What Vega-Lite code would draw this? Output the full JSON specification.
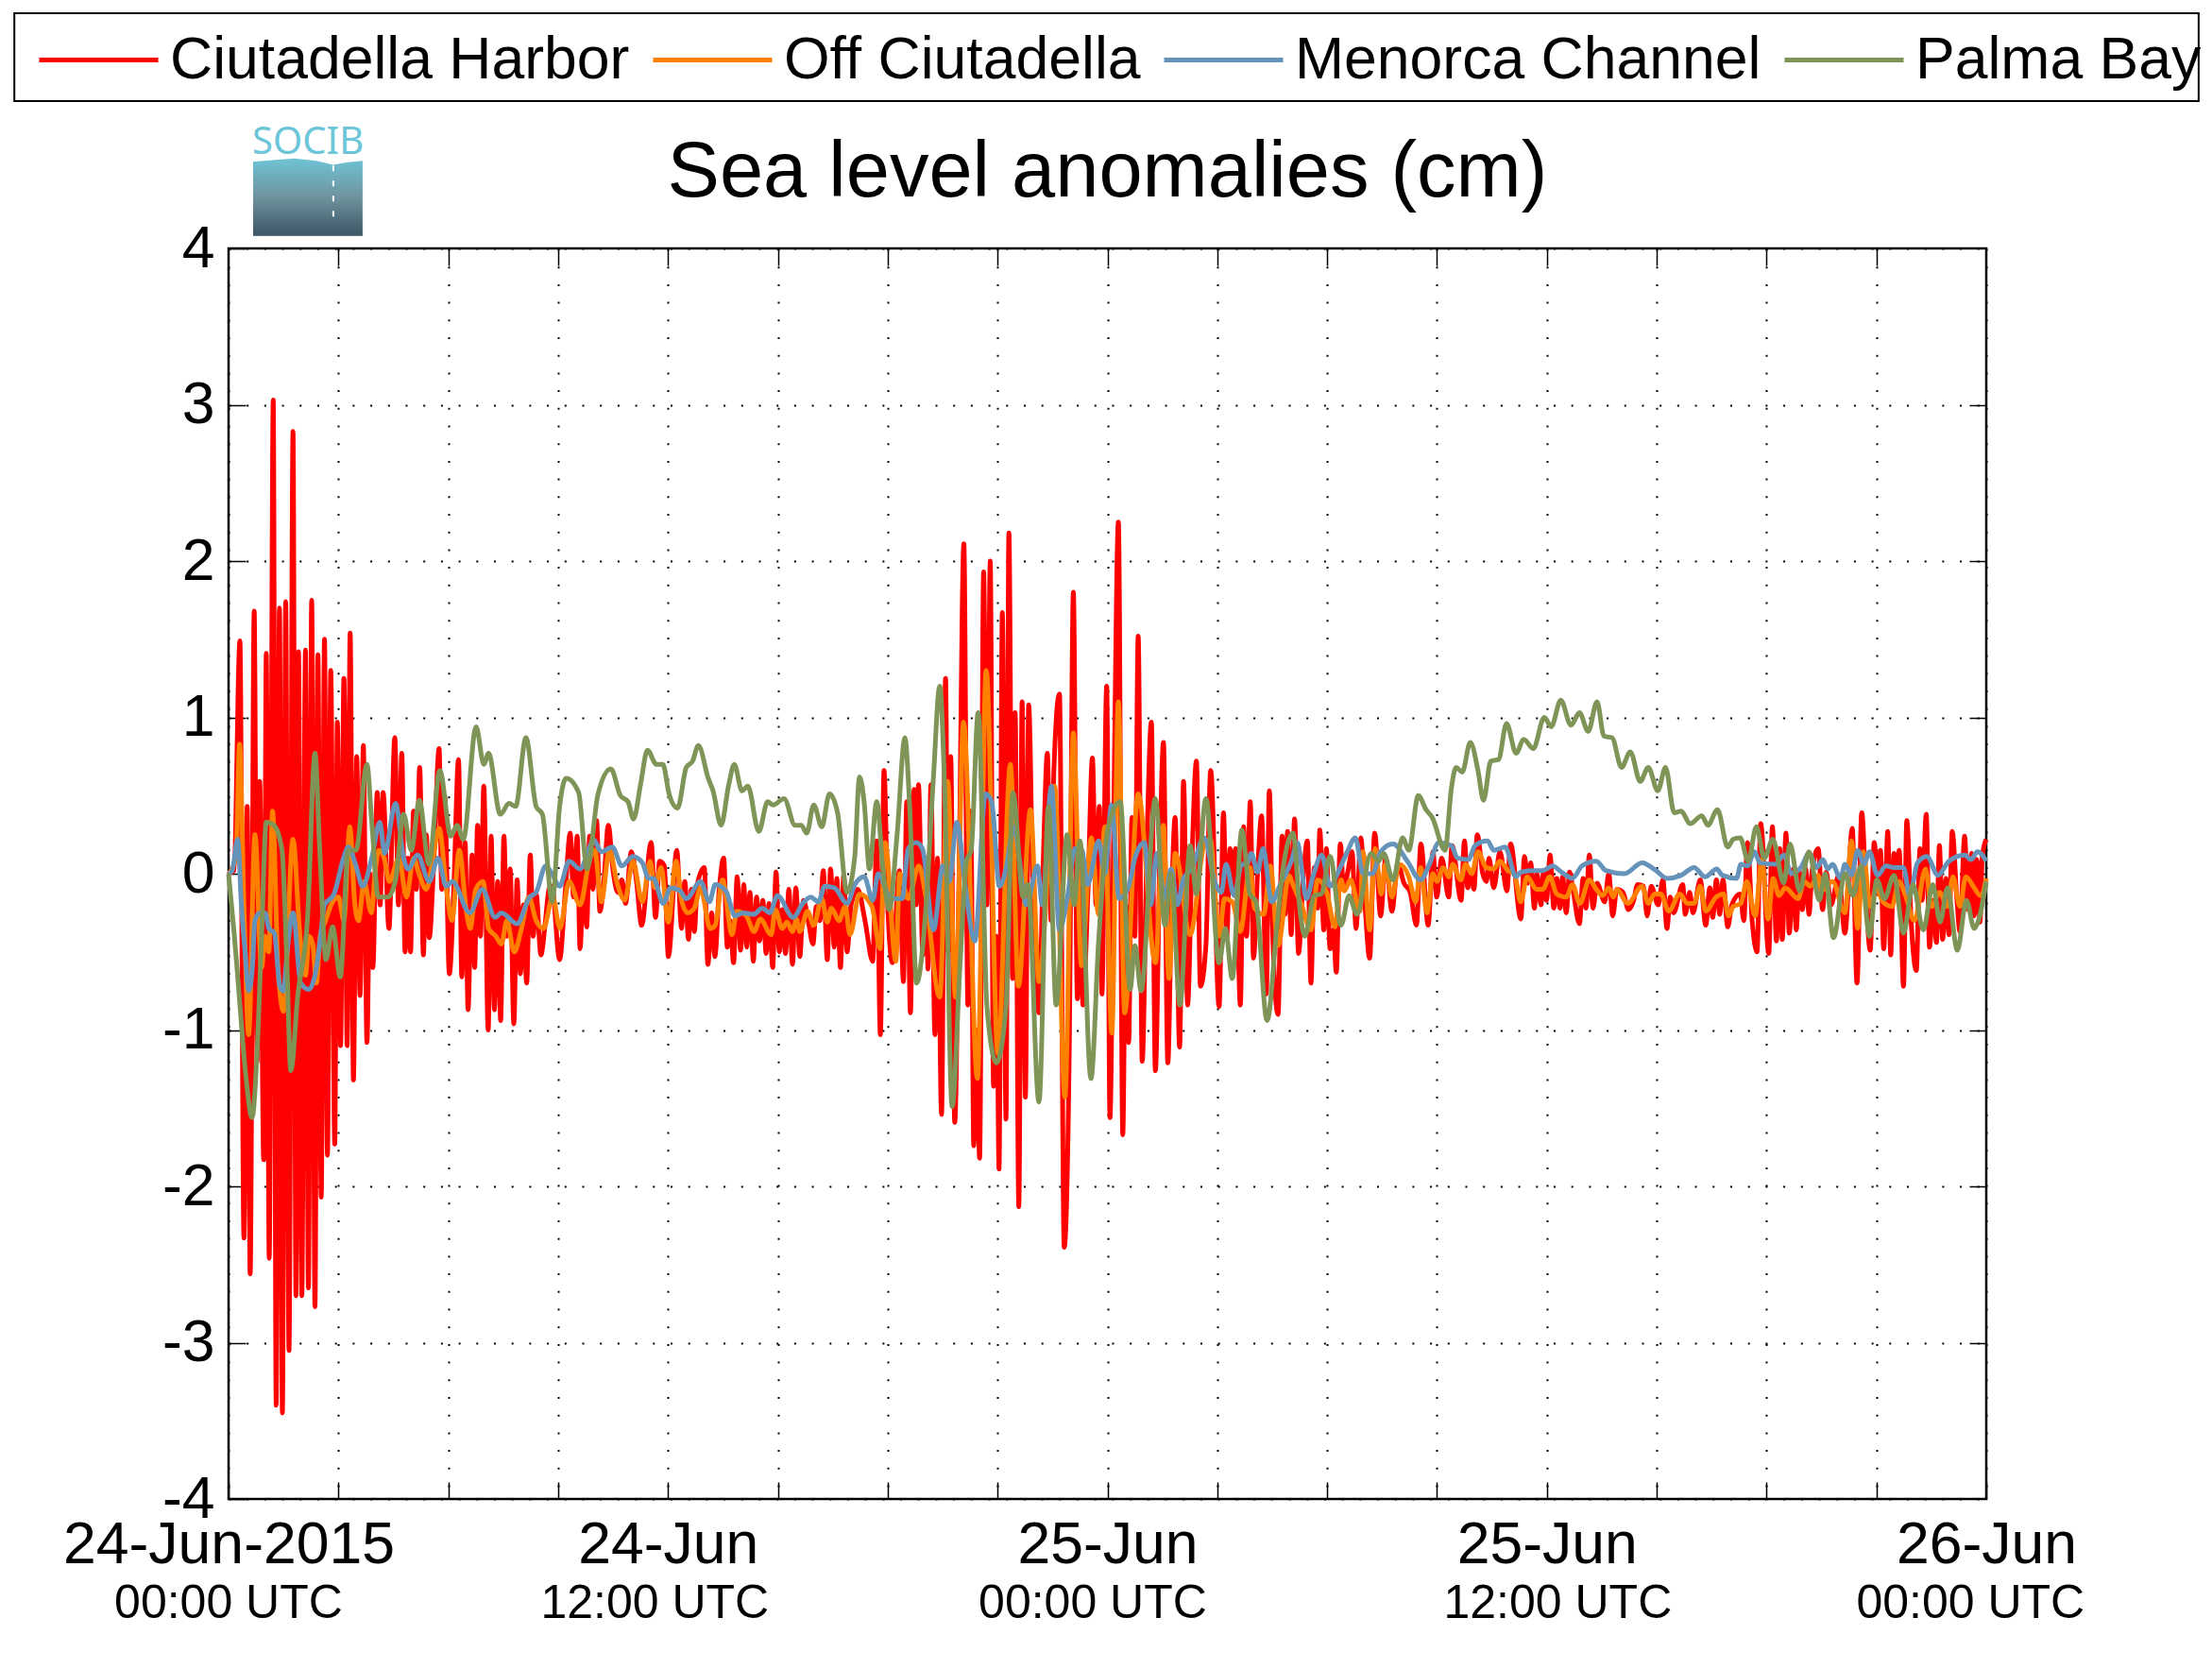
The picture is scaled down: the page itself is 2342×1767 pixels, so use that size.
{"$schema":"https://vega.github.io/schema/vega-lite/v6.json","description":"Sea level anomalies at four SOCIB stations","width":1861,"height":1324,"autosize":{"type":"none"},"padding":{"left":242,"top":263,"right":239,"bottom":180},"background":"white","view":{"stroke":"black","strokeWidth":2.5},"title":{"text":"Sea level anomalies (cm)","font":"Liberation Sans","fontSize":83,"fontWeight":"normal","anchor":"middle","baseline":"alphabetic","offset":-293,"color":"black"},
"datasets":{
"harbor":[{"h":0,"v":0},{"h":0.15,"v":0.02},{"h":0.31,"v":1.49},{"h":0.42,"v":-2.33},{"h":0.51,"v":0.43},{"h":0.59,"v":-2.56},{"h":0.7,"v":1.68},{"h":0.78,"v":-1.2},{"h":0.85,"v":0.59},{"h":0.96,"v":-1.83},{"h":1.03,"v":1.41},{"h":1.11,"v":-2.46},{"h":1.22,"v":3.03},{"h":1.3,"v":-3.4},{"h":1.39,"v":1.7},{"h":1.47,"v":-3.45},{"h":1.56,"v":1.74},{"h":1.65,"v":-3.05},{"h":1.76,"v":2.83},{"h":1.84,"v":-2.7},{"h":1.91,"v":1.42},{"h":2,"v":-2.7},{"h":2.1,"v":1.43},{"h":2.18,"v":-2.65},{"h":2.27,"v":1.75},{"h":2.36,"v":-2.77},{"h":2.44,"v":1.4},{"h":2.53,"v":-2.07},{"h":2.62,"v":1.5},{"h":2.7,"v":-1.8},{"h":2.79,"v":1.3},{"h":2.9,"v":-1.73},{"h":2.97,"v":0.97},{"h":3.06,"v":-1.1},{"h":3.15,"v":1.25},{"h":3.24,"v":-1.1},{"h":3.32,"v":1.54},{"h":3.41,"v":-1.32},{"h":3.5,"v":0.75},{"h":3.59,"v":-0.78},{"h":3.68,"v":0.82},{"h":3.78,"v":-1.08},{"h":3.86,"v":0},{"h":3.94,"v":-0.6},{"h":4.06,"v":0.52},{"h":4.14,"v":-0.2},{"h":4.22,"v":0.52},{"h":4.38,"v":-0.35},{"h":4.54,"v":0.87},{"h":4.64,"v":-0.2},{"h":4.73,"v":0.77},{"h":4.82,"v":-0.5},{"h":4.9,"v":0.1},{"h":4.97,"v":-0.5},{"h":5.05,"v":0.4},{"h":5.13,"v":-0.1},{"h":5.22,"v":0.68},{"h":5.32,"v":-0.52},{"h":5.4,"v":0.25},{"h":5.48,"v":-0.41},{"h":5.6,"v":0.05},{"h":5.75,"v":0.8},{"h":5.82,"v":-0.1},{"h":5.9,"v":0.5},{"h":6.03,"v":-0.64},{"h":6.15,"v":-0.1},{"h":6.28,"v":0.73},{"h":6.37,"v":-0.66},{"h":6.46,"v":0.2},{"h":6.54,"v":-0.87},{"h":6.65,"v":0.12},{"h":6.72,"v":-0.6},{"h":6.8,"v":0.31},{"h":6.88,"v":-0.4},{"h":6.97,"v":0.56},{"h":7.09,"v":-1},{"h":7.17,"v":0.24},{"h":7.26,"v":-0.87},{"h":7.35,"v":-0.05},{"h":7.43,"v":-0.94},{"h":7.52,"v":0.24},{"h":7.6,"v":-0.4},{"h":7.69,"v":0.03},{"h":7.79,"v":-0.96},{"h":7.88,"v":-0.04},{"h":7.97,"v":-0.64},{"h":8.05,"v":-0.2},{"h":8.14,"v":-0.7},{"h":8.24,"v":0.12},{"h":8.32,"v":-0.4},{"h":8.4,"v":-0.13},{"h":8.53,"v":-0.52},{"h":8.65,"v":-0.31},{"h":8.75,"v":-0.1},{"h":8.83,"v":-0.08},{"h":9.04,"v":-0.55},{"h":9.2,"v":-0.1},{"h":9.33,"v":0.26},{"h":9.42,"v":-0.15},{"h":9.52,"v":0.24},{"h":9.6,"v":-0.48},{"h":9.7,"v":0.05},{"h":9.78,"v":-0.34},{"h":9.86,"v":0.24},{"h":9.95,"v":-0.1},{"h":10.05,"v":0.34},{"h":10.14,"v":-0.24},{"h":10.25,"v":-0.05},{"h":10.37,"v":0.31},{"h":10.5,"v":0.02},{"h":10.63,"v":-0.12},{"h":10.74,"v":-0.04},{"h":10.84,"v":-0.19},{"h":11,"v":0.14},{"h":11.14,"v":-0.05},{"h":11.28,"v":-0.33},{"h":11.54,"v":0.2},{"h":11.66,"v":-0.28},{"h":11.77,"v":0.08},{"h":11.9,"v":0.05},{"h":12.01,"v":-0.53},{"h":12.24,"v":0.15},{"h":12.37,"v":-0.35},{"h":12.46,"v":-0.05},{"h":12.56,"v":-0.42},{"h":12.64,"v":-0.1},{"h":12.72,"v":-0.37},{"h":12.8,"v":-0.07},{"h":12.99,"v":0.04},{"h":13.09,"v":-0.58},{"h":13.19,"v":-0.25},{"h":13.28,"v":-0.53},{"h":13.4,"v":-0.1},{"h":13.52,"v":0.1},{"h":13.62,"v":-0.47},{"h":13.7,"v":-0.3},{"h":13.79,"v":-0.57},{"h":13.89,"v":-0.02},{"h":13.98,"v":-0.49},{"h":14.07,"v":-0.07},{"h":14.15,"v":-0.47},{"h":14.24,"v":-0.12},{"h":14.33,"v":-0.56},{"h":14.42,"v":-0.15},{"h":14.5,"v":-0.43},{"h":14.59,"v":-0.17},{"h":14.68,"v":-0.51},{"h":14.76,"v":-0.19},{"h":14.86,"v":-0.6},{"h":14.95,"v":0.01},{"h":15.04,"v":-0.5},{"h":15.12,"v":-0.23},{"h":15.21,"v":-0.51},{"h":15.3,"v":-0.1},{"h":15.4,"v":-0.58},{"h":15.49,"v":-0.09},{"h":15.6,"v":-0.53},{"h":15.7,"v":-0.17},{"h":15.83,"v":-0.3},{"h":15.96,"v":-0.45},{"h":16.05,"v":-0.21},{"h":16.15,"v":-0.3},{"h":16.24,"v":0.02},{"h":16.35,"v":-0.55},{"h":16.44,"v":0.03},{"h":16.54,"v":-0.47},{"h":16.61,"v":-0.03},{"h":16.71,"v":-0.6},{"h":16.8,"v":-0.01},{"h":16.89,"v":-0.5},{"h":17,"v":-0.2},{"h":17.18,"v":-0.1},{"h":17.38,"v":-0.3},{"h":17.59,"v":-0.56},{"h":17.7,"v":0.21},{"h":17.8,"v":-1.03},{"h":17.9,"v":0.66},{"h":18,"v":-0.2},{"h":18.13,"v":-0.57},{"h":18.32,"v":0.02},{"h":18.43,"v":-0.69},{"h":18.52,"v":0.46},{"h":18.62,"v":-0.89},{"h":18.72,"v":0.54},{"h":18.78,"v":-0.2},{"h":18.84,"v":0.57},{"h":18.96,"v":-0.52},{"h":19.04,"v":0.1},{"h":19.1,"v":-0.61},{"h":19.18,"v":0.57},{"h":19.29,"v":-1.03},{"h":19.36,"v":0.1},{"h":19.47,"v":-1.54},{"h":19.58,"v":1.25},{"h":19.65,"v":-0.5},{"h":19.72,"v":0.75},{"h":19.83,"v":-1.59},{"h":19.95,"v":0},{"h":20.08,"v":2.11},{"h":20.19,"v":-0.84},{"h":20.27,"v":0.4},{"h":20.35,"v":-1.74},{"h":20.43,"v":-1},{"h":20.51,"v":-1.82},{"h":20.62,"v":1.93},{"h":20.71,"v":-0.2},{"h":20.8,"v":2},{"h":20.89,"v":-1.36},{"h":20.97,"v":-0.4},{"h":21.04,"v":-1.89},{"h":21.13,"v":1.67},{"h":21.23,"v":-1.57},{"h":21.31,"v":2.18},{"h":21.41,"v":-0.67},{"h":21.48,"v":1.03},{"h":21.58,"v":-2.13},{"h":21.67,"v":1.1},{"h":21.76,"v":-1.43},{"h":21.85,"v":1.08},{"h":21.97,"v":-0.2},{"h":22.13,"v":-0.89},{"h":22.25,"v":0.1},{"h":22.36,"v":0.77},{"h":22.46,"v":-0.3},{"h":22.54,"v":0.67},{"h":22.69,"v":1.15},{"h":22.82,"v":-2.39},{"h":22.96,"v":-1.08},{"h":23.07,"v":1.8},{"h":23.18,"v":-0.8},{"h":23.26,"v":0.1},{"h":23.33,"v":-0.84},{"h":23.47,"v":-0.1},{"h":23.59,"v":0.74},{"h":23.69,"v":-0.2},{"h":23.78,"v":0.43},{"h":23.85,"v":-0.77},{"h":23.98,"v":1.2},{"h":24.07,"v":-1.56},{"h":24.18,"v":0.5},{"h":24.3,"v":2.25},{"h":24.42,"v":-1.67},{"h":24.5,"v":-0.2},{"h":24.58,"v":-1.08},{"h":24.67,"v":0.36},{"h":24.75,"v":-0.4},{"h":24.84,"v":1.52},{"h":24.95,"v":-1.2},{"h":25.08,"v":0.2},{"h":25.2,"v":0.97},{"h":25.31,"v":-1.26},{"h":25.43,"v":0.1},{"h":25.53,"v":0.84},{"h":25.65,"v":-1.21},{"h":25.75,"v":-0.2},{"h":25.85,"v":0.36},{"h":25.97,"v":-1.11},{"h":26.08,"v":0.59},{"h":26.19,"v":-0.84},{"h":26.31,"v":0.1},{"h":26.43,"v":0.72},{"h":26.54,"v":-0.72},{"h":26.69,"v":-0.46},{"h":26.82,"v":0.66},{"h":27.05,"v":-0.85},{"h":27.17,"v":0.39},{"h":27.26,"v":-0.4},{"h":27.35,"v":0.16},{"h":27.42,"v":-0.1},{"h":27.5,"v":0.16},{"h":27.63,"v":-0.84},{"h":27.72,"v":0.3},{"h":27.8,"v":-0.4},{"h":27.9,"v":0.46},{"h":27.99,"v":-0.54},{"h":28.1,"v":0},{"h":28.21,"v":0.37},{"h":28.34,"v":-0.77},{"h":28.42,"v":0.53},{"h":28.52,"v":-0.43},{"h":28.66,"v":-0.9},{"h":28.77,"v":0.24},{"h":28.85,"v":-0.26},{"h":28.92,"v":0.27},{"h":29.02,"v":-0.39},{"h":29.11,"v":0.35},{"h":29.22,"v":-0.51},{"h":29.34,"v":-0.05},{"h":29.46,"v":0.21},{"h":29.56,"v":-0.7},{"h":29.65,"v":0.04},{"h":29.74,"v":-0.22},{"h":29.8,"v":0.28},{"h":29.91,"v":-0.36},{"h":29.98,"v":0.16},{"h":30.08,"v":-0.48},{"h":30.17,"v":-0.36},{"h":30.25,"v":-0.63},{"h":30.36,"v":0.19},{"h":30.45,"v":-0.1},{"h":30.57,"v":0.02},{"h":30.68,"v":0.14},{"h":30.79,"v":-0.35},{"h":30.92,"v":0.23},{"h":31.04,"v":-0.22},{"h":31.16,"v":-0.54},{"h":31.3,"v":0.26},{"h":31.46,"v":-0.27},{"h":31.6,"v":0.1},{"h":31.77,"v":-0.24},{"h":31.93,"v":0.06},{"h":32.1,"v":-0.06},{"h":32.27,"v":-0.12},{"h":32.44,"v":-0.33},{"h":32.56,"v":0.19},{"h":32.76,"v":-0.33},{"h":32.89,"v":0.14},{"h":32.99,"v":-0.15},{"h":33.13,"v":0.1},{"h":33.32,"v":-0.15},{"h":33.41,"v":0.18},{"h":33.66,"v":-0.17},{"h":33.75,"v":0.21},{"h":33.84,"v":-0.09},{"h":33.91,"v":0.02},{"h":34.01,"v":-0.1},{"h":34.1,"v":0.25},{"h":34.25,"v":0},{"h":34.35,"v":-0.05},{"h":34.42,"v":0.1},{"h":34.55,"v":-0.09},{"h":34.72,"v":0.14},{"h":34.91,"v":-0.11},{"h":35.01,"v":0.19},{"h":35.29,"v":-0.29},{"h":35.39,"v":0.11},{"h":35.48,"v":-0.06},{"h":35.56,"v":0.07},{"h":35.66,"v":-0.22},{"h":35.73,"v":0},{"h":35.84,"v":-0.2},{"h":35.91,"v":0.02},{"h":35.99,"v":-0.17},{"h":36.09,"v":0.12},{"h":36.19,"v":-0.22},{"h":36.27,"v":-0.03},{"h":36.36,"v":-0.22},{"h":36.43,"v":-0.02},{"h":36.53,"v":-0.25},{"h":36.62,"v":0.01},{"h":36.7,"v":-0.08},{"h":36.89,"v":-0.32},{"h":36.99,"v":-0.03},{"h":37.07,"v":-0.22},{"h":37.16,"v":0.12},{"h":37.26,"v":-0.22},{"h":37.37,"v":-0.06},{"h":37.58,"v":-0.18},{"h":37.69,"v":0},{"h":37.8,"v":-0.27},{"h":37.91,"v":-0.1},{"h":38.08,"v":-0.12},{"h":38.23,"v":-0.23},{"h":38.36,"v":-0.18},{"h":38.48,"v":-0.07},{"h":38.64,"v":-0.08},{"h":38.74,"v":-0.27},{"h":38.85,"v":-0.08},{"h":39.04,"v":-0.2},{"h":39.17,"v":-0.04},{"h":39.28,"v":-0.35},{"h":39.37,"v":-0.15},{"h":39.46,"v":-0.25},{"h":39.71,"v":-0.07},{"h":39.78,"v":-0.26},{"h":39.9,"v":-0.12},{"h":39.99,"v":-0.25},{"h":40.19,"v":-0.04},{"h":40.34,"v":-0.33},{"h":40.45,"v":-0.09},{"h":40.53,"v":-0.28},{"h":40.63,"v":-0.04},{"h":40.72,"v":-0.26},{"h":40.81,"v":-0.04},{"h":40.94,"v":-0.34},{"h":41.05,"v":-0.2},{"h":41.28,"v":-0.13},{"h":41.38,"v":-0.3},{"h":41.48,"v":0.2},{"h":41.61,"v":-0.31},{"h":41.74,"v":-0.5},{"h":41.84,"v":0.32},{"h":42.06,"v":-0.51},{"h":42.16,"v":0.3},{"h":42.27,"v":-0.43},{"h":42.36,"v":0.16},{"h":42.43,"v":-0.42},{"h":42.53,"v":0.26},{"h":42.62,"v":-0.38},{"h":42.73,"v":0.03},{"h":42.81,"v":-0.36},{"h":42.9,"v":0.01},{"h":42.98,"v":-0.23},{"h":43.07,"v":0.03},{"h":43.16,"v":-0.26},{"h":43.24,"v":0.01},{"h":43.41,"v":0.16},{"h":43.53,"v":-0.23},{"h":43.63,"v":0.01},{"h":43.76,"v":-0.2},{"h":43.97,"v":-0.01},{"h":44.14,"v":-0.38},{"h":44.34,"v":0.29},{"h":44.47,"v":-0.7},{"h":44.6,"v":0.39},{"h":44.73,"v":-0.21},{"h":44.83,"v":-0.49},{"h":44.94,"v":0.2},{"h":45.05,"v":-0.13},{"h":45.11,"v":0.15},{"h":45.2,"v":-0.48},{"h":45.31,"v":0.27},{"h":45.39,"v":-0.52},{"h":45.48,"v":0.13},{"h":45.55,"v":-0.1},{"h":45.62,"v":0.15},{"h":45.74,"v":-0.72},{"h":45.83,"v":0.34},{"h":45.95,"v":-0.31},{"h":46.09,"v":-0.62},{"h":46.19,"v":0.16},{"h":46.25,"v":-0.17},{"h":46.36,"v":0.38},{"h":46.45,"v":-0.47},{"h":46.55,"v":-0.17},{"h":46.64,"v":-0.44},{"h":46.72,"v":0.18},{"h":46.81,"v":-0.42},{"h":46.9,"v":-0.03},{"h":46.98,"v":-0.39},{"h":47.07,"v":0.27},{"h":47.2,"v":-0.17},{"h":47.28,"v":-0.37},{"h":47.41,"v":0.24},{"h":47.5,"v":-0.23},{"h":47.6,"v":0.13},{"h":47.67,"v":-0.27},{"h":47.74,"v":0.09},{"h":47.83,"v":-0.31},{"h":47.89,"v":0.11},{"h":48,"v":0.22}],
"off":[{"h":0,"v":0},{"h":0.2,"v":0.1},{"h":0.3,"v":0.83},{"h":0.42,"v":-0.2},{"h":0.55,"v":-1.03},{"h":0.72,"v":0.25},{"h":0.9,"v":-0.6},{"h":1,"v":-0.4},{"h":1.1,"v":-0.5},{"h":1.2,"v":0.4},{"h":1.35,"v":-0.6},{"h":1.5,"v":-0.88},{"h":1.76,"v":0.22},{"h":1.95,"v":-0.4},{"h":2.1,"v":-0.65},{"h":2.2,"v":-0.4},{"h":2.3,"v":-0.45},{"h":2.4,"v":-0.7},{"h":2.5,"v":-0.4},{"h":2.65,"v":-0.3},{"h":2.8,"v":-0.2},{"h":3,"v":-0.15},{"h":3.15,"v":-0.3},{"h":3.31,"v":0.3},{"h":3.45,"v":-0.2},{"h":3.55,"v":-0.3},{"h":3.7,"v":-0.05},{"h":3.9,"v":-0.25},{"h":4,"v":0},{"h":4.1,"v":0.15},{"h":4.25,"v":0.1},{"h":4.39,"v":-0.05},{"h":4.65,"v":0.1},{"h":4.86,"v":-0.15},{"h":5.05,"v":0.1},{"h":5.2,"v":0},{"h":5.4,"v":-0.1},{"h":5.55,"v":0.05},{"h":5.75,"v":0.29},{"h":5.95,"v":-0.1},{"h":6.1,"v":-0.3},{"h":6.3,"v":0.15},{"h":6.5,"v":-0.25},{"h":6.6,"v":-0.35},{"h":6.75,"v":-0.1},{"h":6.95,"v":-0.05},{"h":7.1,"v":-0.35},{"h":7.3,"v":-0.4},{"h":7.45,"v":-0.45},{"h":7.6,"v":-0.3},{"h":7.8,"v":-0.5},{"h":8,"v":-0.35},{"h":8.2,"v":-0.15},{"h":8.4,"v":-0.3},{"h":8.6,"v":-0.35},{"h":8.85,"v":-0.15},{"h":9.05,"v":-0.35},{"h":9.3,"v":-0.05},{"h":9.6,"v":-0.2},{"h":9.85,"v":0.08},{"h":10,"v":0.15},{"h":10.18,"v":-0.18},{"h":10.4,"v":0.15},{"h":10.61,"v":-0.06},{"h":10.82,"v":-0.17},{"h":11.04,"v":0.08},{"h":11.3,"v":-0.18},{"h":11.51,"v":0.08},{"h":11.64,"v":-0.09},{"h":11.81,"v":0.04},{"h":12.01,"v":-0.31},{"h":12.22,"v":0.08},{"h":12.37,"v":-0.17},{"h":12.54,"v":-0.25},{"h":12.72,"v":-0.22},{"h":12.89,"v":-0.09},{"h":13.15,"v":-0.35},{"h":13.29,"v":-0.33},{"h":13.49,"v":-0.04},{"h":13.75,"v":-0.39},{"h":13.88,"v":-0.24},{"h":14.14,"v":-0.27},{"h":14.35,"v":-0.37},{"h":14.52,"v":-0.29},{"h":14.82,"v":-0.39},{"h":14.93,"v":-0.23},{"h":15.12,"v":-0.35},{"h":15.25,"v":-0.31},{"h":15.4,"v":-0.37},{"h":15.51,"v":-0.29},{"h":15.6,"v":-0.37},{"h":15.81,"v":-0.24},{"h":15.98,"v":-0.33},{"h":16.2,"v":-0.16},{"h":16.35,"v":-0.31},{"h":16.46,"v":-0.22},{"h":16.67,"v":-0.3},{"h":16.84,"v":-0.21},{"h":16.97,"v":-0.39},{"h":17.23,"v":-0.13},{"h":17.57,"v":-0.21},{"h":17.79,"v":-0.48},{"h":17.93,"v":0.2},{"h":18.22,"v":-0.56},{"h":18.33,"v":0},{"h":18.56,"v":-0.16},{"h":18.85,"v":0.05},{"h":19.03,"v":-0.13},{"h":19.42,"v":-0.79},{"h":19.64,"v":0.59},{"h":19.85,"v":-0.79},{"h":20.07,"v":0.97},{"h":20.45,"v":-1.31},{"h":20.69,"v":1.3},{"h":21.01,"v":-1.15},{"h":21.35,"v":0.7},{"h":21.57,"v":-0.72},{"h":21.9,"v":0.41},{"h":22.13,"v":-0.69},{"h":22.56,"v":0.56},{"h":22.84,"v":-1.43},{"h":23.07,"v":0.9},{"h":23.29,"v":-0.59},{"h":23.56,"v":0.23},{"h":23.76,"v":-0.26},{"h":23.93,"v":0.3},{"h":24.12,"v":-1.02},{"h":24.3,"v":1.1},{"h":24.47,"v":-0.89},{"h":24.84,"v":0.51},{"h":25.31,"v":-0.57},{"h":25.53,"v":0.31},{"h":25.68,"v":-0.67},{"h":25.85,"v":0.13},{"h":26.26,"v":-0.39},{"h":26.64,"v":0.18},{"h":26.81,"v":0.22},{"h":27.05,"v":-0.4},{"h":27.2,"v":-0.16},{"h":27.41,"v":-0.18},{"h":27.63,"v":-0.37},{"h":27.89,"v":0.04},{"h":28.02,"v":-0.22},{"h":28.27,"v":-0.26},{"h":28.45,"v":0.05},{"h":28.66,"v":-0.46},{"h":28.96,"v":-0.01},{"h":29.05,"v":-0.06},{"h":29.3,"v":-0.2},{"h":29.56,"v":-0.36},{"h":29.74,"v":-0.04},{"h":29.99,"v":-0.12},{"h":30.21,"v":-0.34},{"h":30.38,"v":-0.04},{"h":30.47,"v":-0.11},{"h":30.64,"v":-0.04},{"h":30.9,"v":-0.24},{"h":30.98,"v":0.14},{"h":31.16,"v":-0.36},{"h":31.31,"v":0.16},{"h":31.48,"v":-0.13},{"h":31.59,"v":0.06},{"h":31.77,"v":-0.15},{"h":31.97,"v":0.06},{"h":32.23,"v":-0.02},{"h":32.42,"v":-0.18},{"h":32.55,"v":0.04},{"h":32.73,"v":-0.25},{"h":32.89,"v":0},{"h":33,"v":-0.05},{"h":33.17,"v":0.04},{"h":33.32,"v":-0.02},{"h":33.43,"v":0.06},{"h":33.65,"v":-0.04},{"h":33.78,"v":0.06},{"h":33.95,"v":0},{"h":34.12,"v":0.14},{"h":34.34,"v":0.04},{"h":34.55,"v":0.03},{"h":34.72,"v":0.08},{"h":34.94,"v":0.02},{"h":35.11,"v":0},{"h":35.29,"v":-0.18},{"h":35.46,"v":-0.02},{"h":35.72,"v":-0.1},{"h":35.89,"v":-0.1},{"h":36.08,"v":-0.02},{"h":36.27,"v":-0.13},{"h":36.53,"v":-0.15},{"h":36.7,"v":-0.07},{"h":36.9,"v":-0.19},{"h":37.16,"v":-0.04},{"h":37.35,"v":-0.1},{"h":37.52,"v":-0.14},{"h":37.69,"v":-0.09},{"h":37.82,"v":-0.15},{"h":37.91,"v":-0.1},{"h":38.21,"v":-0.19},{"h":38.6,"v":-0.08},{"h":38.77,"v":-0.19},{"h":38.94,"v":-0.13},{"h":39.11,"v":-0.13},{"h":39.33,"v":-0.24},{"h":39.63,"v":-0.13},{"h":39.84,"v":-0.19},{"h":40.02,"v":-0.19},{"h":40.19,"v":-0.08},{"h":40.34,"v":-0.24},{"h":40.62,"v":-0.15},{"h":40.83,"v":-0.13},{"h":40.96,"v":-0.27},{"h":41.09,"v":-0.21},{"h":41.3,"v":-0.19},{"h":41.46,"v":-0.05},{"h":41.69,"v":-0.27},{"h":41.87,"v":0.09},{"h":42.04,"v":-0.29},{"h":42.18,"v":-0.03},{"h":42.34,"v":-0.14},{"h":42.51,"v":-0.09},{"h":42.86,"v":-0.16},{"h":43.03,"v":-0.05},{"h":43.2,"v":-0.08},{"h":43.41,"v":-0.01},{"h":43.5,"v":-0.11},{"h":43.8,"v":-0.05},{"h":44.14,"v":-0.25},{"h":44.32,"v":0.21},{"h":44.49,"v":-0.35},{"h":44.64,"v":0.14},{"h":44.83,"v":-0.21},{"h":45,"v":-0.09},{"h":45.18,"v":-0.18},{"h":45.43,"v":-0.21},{"h":45.61,"v":-0.05},{"h":45.78,"v":-0.13},{"h":46.04,"v":-0.3},{"h":46.34,"v":0.03},{"h":46.51,"v":-0.21},{"h":46.72,"v":-0.12},{"h":46.94,"v":-0.21},{"h":47.09,"v":-0.02},{"h":47.28,"v":-0.21},{"h":47.44,"v":-0.02},{"h":47.67,"v":-0.09},{"h":47.84,"v":-0.14},{"h":48,"v":-0.03}],
"channel":[{"h":0,"v":0},{"h":0.1,"v":0.02},{"h":0.25,"v":0.22},{"h":0.35,"v":-0.2},{"h":0.45,"v":-0.5},{"h":0.55,"v":-0.75},{"h":0.65,"v":-0.6},{"h":0.72,"v":-0.3},{"h":0.85,"v":-0.25},{"h":1,"v":-0.25},{"h":1.1,"v":-0.35},{"h":1.25,"v":-0.38},{"h":1.4,"v":-0.72},{"h":1.5,"v":-0.75},{"h":1.6,"v":-0.5},{"h":1.76,"v":-0.25},{"h":1.97,"v":-0.7},{"h":2.19,"v":-0.74},{"h":2.36,"v":-0.65},{"h":2.49,"v":-0.45},{"h":2.62,"v":-0.2},{"h":2.88,"v":-0.13},{"h":3.14,"v":0.1},{"h":3.27,"v":0.17},{"h":3.48,"v":0.05},{"h":3.66,"v":-0.08},{"h":3.91,"v":0.1},{"h":4.13,"v":0.33},{"h":4.26,"v":0.13},{"h":4.56,"v":0.45},{"h":4.78,"v":0.1},{"h":4.9,"v":0.03},{"h":5.16,"v":0.12},{"h":5.48,"v":-0.05},{"h":5.72,"v":0.1},{"h":5.94,"v":-0.08},{"h":6.11,"v":-0.05},{"h":6.59,"v":-0.25},{"h":6.93,"v":-0.1},{"h":7.28,"v":-0.28},{"h":7.45,"v":-0.25},{"h":7.88,"v":-0.32},{"h":8.22,"v":-0.15},{"h":8.4,"v":-0.12},{"h":8.66,"v":0.05},{"h":8.83,"v":0},{"h":9.04,"v":-0.08},{"h":9.3,"v":0.08},{"h":9.6,"v":0.03},{"h":9.86,"v":0.17},{"h":9.96,"v":0.22},{"h":10.18,"v":0.14},{"h":10.48,"v":0.17},{"h":10.74,"v":0.05},{"h":11.04,"v":0.11},{"h":11.3,"v":0.07},{"h":11.47,"v":-0.03},{"h":11.6,"v":-0.03},{"h":11.87,"v":-0.19},{"h":12.07,"v":-0.09},{"h":12.33,"v":-0.11},{"h":12.5,"v":-0.16},{"h":12.89,"v":-0.05},{"h":13.13,"v":-0.18},{"h":13.29,"v":-0.07},{"h":13.58,"v":-0.11},{"h":13.83,"v":-0.27},{"h":14.05,"v":-0.25},{"h":14.35,"v":-0.26},{"h":14.57,"v":-0.22},{"h":14.78,"v":-0.25},{"h":14.99,"v":-0.14},{"h":15.42,"v":-0.28},{"h":15.68,"v":-0.19},{"h":15.9,"v":-0.15},{"h":16.11,"v":-0.18},{"h":16.28,"v":-0.08},{"h":16.54,"v":-0.09},{"h":16.89,"v":-0.19},{"h":17.1,"v":-0.07},{"h":17.36,"v":-0.02},{"h":17.59,"v":-0.17},{"h":17.74,"v":0},{"h":18.09,"v":-0.16},{"h":18.39,"v":-0.16},{"h":18.56,"v":0.16},{"h":18.78,"v":0.2},{"h":18.95,"v":0.16},{"h":19.25,"v":-0.36},{"h":19.51,"v":0.05},{"h":19.68,"v":-0.05},{"h":19.89,"v":0.33},{"h":20.11,"v":-0.07},{"h":20.38,"v":-0.43},{"h":20.67,"v":0.51},{"h":20.84,"v":0.46},{"h":21.05,"v":-0.08},{"h":21.23,"v":0.03},{"h":21.44,"v":0.3},{"h":21.79,"v":-0.2},{"h":22.09,"v":0.05},{"h":22.22,"v":-0.2},{"h":22.47,"v":0.56},{"h":22.69,"v":-0.36},{"h":22.9,"v":-0.16},{"h":23.12,"v":0.16},{"h":23.29,"v":0.16},{"h":23.46,"v":-0.07},{"h":23.76,"v":0.21},{"h":23.93,"v":0},{"h":24.11,"v":0.44},{"h":24.32,"v":-0.16},{"h":24.58,"v":-0.08},{"h":24.75,"v":0.1},{"h":25.01,"v":0.2},{"h":25.18,"v":-0.2},{"h":25.35,"v":0.13},{"h":25.57,"v":-0.16},{"h":25.74,"v":0.03},{"h":25.91,"v":-0.2},{"h":26.08,"v":-0.03},{"h":26.3,"v":0.03},{"h":26.64,"v":0.23},{"h":26.94,"v":-0.06},{"h":27.11,"v":-0.12},{"h":27.24,"v":0.06},{"h":27.46,"v":-0.14},{"h":27.67,"v":0.06},{"h":27.8,"v":0.06},{"h":27.93,"v":0.13},{"h":28.1,"v":0.01},{"h":28.25,"v":0.16},{"h":28.49,"v":-0.18},{"h":28.7,"v":-0.08},{"h":29.05,"v":0.1},{"h":29.18,"v":0.2},{"h":29.44,"v":-0.16},{"h":29.61,"v":-0.02},{"h":29.85,"v":0.12},{"h":30.08,"v":-0.08},{"h":30.3,"v":0.01},{"h":30.55,"v":0.14},{"h":30.77,"v":0.23},{"h":30.98,"v":0},{"h":31.24,"v":0},{"h":31.46,"v":0.14},{"h":31.8,"v":0.19},{"h":32.19,"v":0.08},{"h":32.55,"v":-0.04},{"h":32.79,"v":0.06},{"h":33.05,"v":0.2},{"h":33.39,"v":0.18},{"h":33.56,"v":0.1},{"h":33.86,"v":0.09},{"h":34.04,"v":0.18},{"h":34.38,"v":0.21},{"h":34.55,"v":0.15},{"h":34.86,"v":0.17},{"h":35.16,"v":-0.02},{"h":35.29,"v":0.01},{"h":35.59,"v":0.02},{"h":35.89,"v":0.02},{"h":36.15,"v":0.05},{"h":36.4,"v":0.01},{"h":36.7,"v":-0.03},{"h":36.96,"v":0.05},{"h":37.35,"v":0.08},{"h":37.61,"v":0.02},{"h":38.12,"v":0},{"h":38.6,"v":0.07},{"h":38.98,"v":0.02},{"h":39.28,"v":-0.03},{"h":39.67,"v":-0.01},{"h":40.02,"v":0.04},{"h":40.32,"v":-0.02},{"h":40.64,"v":0.03},{"h":40.79,"v":-0.01},{"h":41.18,"v":-0.03},{"h":41.3,"v":0.06},{"h":41.48,"v":0.05},{"h":41.67,"v":0.14},{"h":41.82,"v":0.07},{"h":42.25,"v":0.06},{"h":42.47,"v":0.12},{"h":42.68,"v":0},{"h":42.94,"v":0.04},{"h":43.16,"v":0.13},{"h":43.37,"v":0.04},{"h":43.54,"v":0.09},{"h":43.67,"v":0.03},{"h":43.8,"v":0.06},{"h":44.02,"v":-0.03},{"h":44.14,"v":0.06},{"h":44.32,"v":-0.01},{"h":44.49,"v":0.15},{"h":44.66,"v":0.06},{"h":44.81,"v":0.14},{"h":45.03,"v":-0.01},{"h":45.26,"v":0.05},{"h":45.48,"v":0.04},{"h":45.74,"v":0.04},{"h":45.91,"v":-0.14},{"h":46.12,"v":0.07},{"h":46.38,"v":0.11},{"h":46.68,"v":-0.01},{"h":46.98,"v":0.08},{"h":47.41,"v":0.12},{"h":47.58,"v":0.09},{"h":47.76,"v":0.14},{"h":48,"v":0.08}],
"palma":[{"h":0,"v":0},{"h":0.16,"v":-0.4},{"h":0.29,"v":-0.78},{"h":0.47,"v":-1.29},{"h":0.64,"v":-1.56},{"h":0.77,"v":-1.19},{"h":0.9,"v":-0.41},{"h":1.03,"v":0.33},{"h":1.24,"v":0.31},{"h":1.46,"v":0.15},{"h":1.59,"v":-0.55},{"h":1.7,"v":-1.26},{"h":1.89,"v":-0.78},{"h":2.16,"v":-0.27},{"h":2.36,"v":0.77},{"h":2.49,"v":0.15},{"h":2.66,"v":-0.55},{"h":2.84,"v":-0.34},{"h":3.05,"v":-0.66},{"h":3.27,"v":0.15},{"h":3.48,"v":0.15},{"h":3.78,"v":0.7},{"h":3.91,"v":0.33},{"h":4.09,"v":-0.15},{"h":4.34,"v":-0.15},{"h":4.56,"v":-0.04},{"h":4.78,"v":0.38},{"h":4.99,"v":0.15},{"h":5.21,"v":0.47},{"h":5.47,"v":0.06},{"h":5.77,"v":0.66},{"h":6.07,"v":0.24},{"h":6.24,"v":0.31},{"h":6.41,"v":0.22},{"h":6.76,"v":0.94},{"h":6.97,"v":0.7},{"h":7.1,"v":0.77},{"h":7.42,"v":0.38},{"h":7.66,"v":0.45},{"h":7.84,"v":0.43},{"h":8.12,"v":0.87},{"h":8.4,"v":0.43},{"h":8.57,"v":0.38},{"h":8.84,"v":-0.18},{"h":9.04,"v":0.43},{"h":9.22,"v":0.61},{"h":9.56,"v":0.52},{"h":9.79,"v":0.03},{"h":10.09,"v":0.51},{"h":10.44,"v":0.67},{"h":10.7,"v":0.5},{"h":10.91,"v":0.46},{"h":11.06,"v":0.35},{"h":11.25,"v":0.57},{"h":11.44,"v":0.79},{"h":11.68,"v":0.7},{"h":11.86,"v":0.7},{"h":12.03,"v":0.51},{"h":12.26,"v":0.42},{"h":12.5,"v":0.68},{"h":12.67,"v":0.72},{"h":12.83,"v":0.82},{"h":13.1,"v":0.61},{"h":13.23,"v":0.53},{"h":13.45,"v":0.31},{"h":13.66,"v":0.57},{"h":13.81,"v":0.7},{"h":14.02,"v":0.53},{"h":14.18,"v":0.56},{"h":14.48,"v":0.27},{"h":14.72,"v":0.46},{"h":14.87,"v":0.44},{"h":15.17,"v":0.48},{"h":15.47,"v":0.31},{"h":15.64,"v":0.31},{"h":15.79,"v":0.26},{"h":15.98,"v":0.44},{"h":16.2,"v":0.3},{"h":16.41,"v":0.51},{"h":16.63,"v":0.39},{"h":16.89,"v":-0.12},{"h":17.1,"v":0.11},{"h":17.23,"v":0.62},{"h":17.36,"v":0.45},{"h":17.5,"v":0.03},{"h":17.7,"v":0.46},{"h":17.87,"v":0.03},{"h":18.04,"v":-0.23},{"h":18.26,"v":0.26},{"h":18.47,"v":0.87},{"h":18.6,"v":0.43},{"h":18.79,"v":-0.7},{"h":19.03,"v":-0.26},{"h":19.25,"v":0.62},{"h":19.42,"v":1.2},{"h":19.55,"v":0.59},{"h":19.76,"v":-1.49},{"h":19.98,"v":-0.56},{"h":20.15,"v":0.08},{"h":20.28,"v":0.15},{"h":20.47,"v":1.03},{"h":20.71,"v":-0.85},{"h":20.97,"v":-1.21},{"h":21.23,"v":-0.85},{"h":21.42,"v":0.52},{"h":21.7,"v":-0.15},{"h":21.83,"v":-0.07},{"h":22.13,"v":-1.46},{"h":22.39,"v":0.43},{"h":22.6,"v":-0.84},{"h":22.9,"v":0.25},{"h":23.09,"v":-0.2},{"h":23.25,"v":0.21},{"h":23.55,"v":-1.31},{"h":23.76,"v":-0.43},{"h":24.02,"v":0.3},{"h":24.35,"v":0.46},{"h":24.62,"v":-0.74},{"h":24.75,"v":-0.46},{"h":24.92,"v":-0.75},{"h":25.31,"v":0.48},{"h":25.57,"v":-0.33},{"h":25.74,"v":0},{"h":25.98,"v":-0.84},{"h":26.26,"v":0.18},{"h":26.43,"v":-0.13},{"h":26.69,"v":0.48},{"h":27.05,"v":-0.57},{"h":27.22,"v":-0.35},{"h":27.41,"v":-0.67},{"h":27.67,"v":0.28},{"h":27.89,"v":-0.13},{"h":28.06,"v":-0.18},{"h":28.36,"v":-0.94},{"h":28.62,"v":-0.36},{"h":28.79,"v":0.02},{"h":29.07,"v":0.26},{"h":29.26,"v":-0.24},{"h":29.39,"v":-0.4},{"h":29.65,"v":-0.14},{"h":29.84,"v":-0.13},{"h":30.08,"v":0.11},{"h":30.38,"v":-0.33},{"h":30.6,"v":-0.14},{"h":30.81,"v":-0.26},{"h":31.2,"v":0.13},{"h":31.41,"v":0.08},{"h":31.54,"v":0.13},{"h":31.8,"v":-0.04},{"h":32.06,"v":0.23},{"h":32.23,"v":0.15},{"h":32.49,"v":0.5},{"h":32.7,"v":0.41},{"h":32.87,"v":0.36},{"h":33.22,"v":0.15},{"h":33.39,"v":0.54},{"h":33.52,"v":0.68},{"h":33.69,"v":0.65},{"h":33.91,"v":0.84},{"h":34.12,"v":0.66},{"h":34.27,"v":0.47},{"h":34.47,"v":0.72},{"h":34.68,"v":0.73},{"h":34.9,"v":0.96},{"h":35.16,"v":0.77},{"h":35.37,"v":0.86},{"h":35.63,"v":0.8},{"h":35.93,"v":1},{"h":36.12,"v":0.94},{"h":36.38,"v":1.11},{"h":36.66,"v":0.95},{"h":36.89,"v":1.03},{"h":37.13,"v":0.91},{"h":37.37,"v":1.1},{"h":37.56,"v":0.88},{"h":37.78,"v":0.87},{"h":38.04,"v":0.68},{"h":38.28,"v":0.78},{"h":38.55,"v":0.59},{"h":38.77,"v":0.68},{"h":39.03,"v":0.53},{"h":39.24,"v":0.68},{"h":39.48,"v":0.39},{"h":39.67,"v":0.4},{"h":39.91,"v":0.32},{"h":40.23,"v":0.37},{"h":40.4,"v":0.31},{"h":40.66,"v":0.41},{"h":40.94,"v":0.17},{"h":41.09,"v":0.22},{"h":41.28,"v":0.23},{"h":41.5,"v":0.08},{"h":41.72,"v":0.3},{"h":41.94,"v":0.1},{"h":42.17,"v":0.22},{"h":42.47,"v":-0.06},{"h":42.64,"v":0.19},{"h":42.9,"v":-0.11},{"h":43.16,"v":0.14},{"h":43.44,"v":-0.17},{"h":43.6,"v":0},{"h":43.83,"v":-0.41},{"h":44.14,"v":0},{"h":44.36,"v":-0.14},{"h":44.58,"v":0.05},{"h":44.81,"v":-0.4},{"h":45.01,"v":-0.04},{"h":45.22,"v":-0.16},{"h":45.48,"v":-0.01},{"h":45.74,"v":-0.38},{"h":46,"v":-0.07},{"h":46.28,"v":-0.36},{"h":46.54,"v":-0.07},{"h":46.74,"v":-0.31},{"h":46.94,"v":-0.09},{"h":47.21,"v":-0.49},{"h":47.46,"v":-0.17},{"h":47.67,"v":-0.35},{"h":47.8,"v":-0.29},{"h":48,"v":-0.05}],
"logoWave":[{"h":0.67,"v":4.555},{"h":1.2,"v":4.565},{"h":1.8,"v":4.575},{"h":2.4,"v":4.56},{"h":2.86,"v":4.535},{"h":3.2,"v":4.55},{"h":3.66,"v":4.56}],
"timeLabels":[{"h":0,"label":"00:00 UTC"},{"h":11.64,"label":"12:00 UTC"},{"h":23.6,"label":"00:00 UTC"},{"h":36.3,"label":"12:00 UTC"},{"h":47.57,"label":"00:00 UTC"}]
},
"layer":[
{"data":{"name":"harbor"},"mark":{"type":"line","strokeWidth":5,"strokeJoin":"round","interpolate":"monotone"},"encoding":{
"x":{"field":"h","type":"quantitative","title":null,"scale":{"domain":[0,48],"nice":false,"zero":false},"axis":{"orient":"bottom","values":[0,3,6,9,12,15,18,21,24,27,30,33,36,39,42,45,48],"labelExpr":"datum.value==0?'24-Jun-2015':datum.value==12?'24-Jun':datum.value==24||datum.value==36?'25-Jun':datum.value==48?'26-Jun':''","labelFont":"Liberation Sans","labelFontSize":62.5,"labelColor":"black","labelPadding":36,"labelLimit":600,"labelOverlap":false,"labelFlush":false,"labelBound":false,"tickSize":-18,"tickColor":"black","tickWidth":1.5,"domain":false,"grid":true,"gridColor":"black","gridWidth":2,"gridDash":[2,16.7],"gridOpacity":1}},
"y":{"field":"v","type":"quantitative","title":null,"scale":{"domain":[-4,4],"nice":false,"zero":false},"axis":{"orient":"left","values":[-4,-3,-2,-1,0,1,2,3,4],"labelExpr":"''+datum.value","labelFont":"Liberation Sans","labelFontSize":62.5,"labelColor":"black","labelPadding":33,"labelOverlap":false,"labelBound":false,"tickSize":-18,"tickColor":"black","tickWidth":1.5,"domain":false,"grid":true,"gridColor":"black","gridWidth":2,"gridDash":[2,16.7],"gridOpacity":1}},
"color":{"datum":"Ciutadella Harbor","type":"nominal","scale":{"domain":["Ciutadella Harbor","Off Ciutadella","Menorca Channel","Palma Bay"],"range":["#ff0000","#ff7f00","#6593b9","#7f9457"]},"legend":{"orient":"none","legendX":-203,"legendY":-265,"direction":"horizontal","columns":4,"title":null,"symbolType":"stroke","symbolSize":15876,"symbolStrokeWidth":5,"labelFont":"Liberation Sans","labelFontSize":62.5,"labelColor":"black","labelOffset":10,"columnPadding":14,"padding":0,"labelLimit":800}}}},
{"data":{"name":"off"},"mark":{"type":"line","strokeWidth":5,"strokeJoin":"round","interpolate":"monotone"},"encoding":{"x":{"field":"h","type":"quantitative","title":null,"scale":{"domain":[0,48],"nice":false,"zero":false},"axis":null},"y":{"field":"v","type":"quantitative","title":null,"scale":{"domain":[-4,4],"nice":false,"zero":false},"axis":null},"color":{"datum":"Off Ciutadella","type":"nominal"}}},
{"data":{"name":"channel"},"mark":{"type":"line","strokeWidth":5,"strokeJoin":"round","interpolate":"monotone"},"encoding":{"x":{"field":"h","type":"quantitative","title":null,"scale":{"domain":[0,48],"nice":false,"zero":false},"axis":null},"y":{"field":"v","type":"quantitative","title":null,"scale":{"domain":[-4,4],"nice":false,"zero":false},"axis":null},"color":{"datum":"Menorca Channel","type":"nominal"}}},
{"data":{"name":"palma"},"mark":{"type":"line","strokeWidth":5,"strokeJoin":"round","interpolate":"monotone"},"encoding":{"color":{"datum":"Palma Bay","type":"nominal"},
"x":{"field":"h","type":"quantitative","title":null,"scale":{"domain":[0,48],"nice":false,"zero":false},"axis":{"orient":"top","values":[3,6,9,12,15,18,21,24,27,30,33,36,39,42,45],"labels":false,"tickSize":-18,"tickColor":"black","tickWidth":1.5,"domain":false,"grid":false}},
"y":{"field":"v","type":"quantitative","title":null,"scale":{"domain":[-4,4],"nice":false,"zero":false},"axis":{"orient":"right","values":[-3,-2,-1,0,1,2,3],"labels":false,"tickSize":-18,"tickColor":"black","tickWidth":1.5,"domain":false,"grid":false}}}},
{"data":{"name":"timeLabels"},"mark":{"type":"text","font":"Liberation Sans","fontSize":50,"color":"black","baseline":"alphabetic","align":"center","dy":126},"encoding":{"x":{"field":"h","type":"quantitative","title":null,"scale":{"domain":[0,48],"nice":false,"zero":false},"axis":null},"y":{"datum":-4,"title":null,"scale":{"domain":[-4,4],"nice":false,"zero":false},"axis":null},"text":{"field":"label"}}},
{"data":{"values":[{"item":"legend box"}]},"mark":{"type":"rect","fillOpacity":0,"color":"white","stroke":"black","strokeWidth":2},"encoding":{"x":{"datum":-5.85,"title":null,"scale":{"domain":[0,48],"nice":false,"zero":false},"axis":null},"x2":{"datum":53.8},"y":{"datum":5.505,"title":null,"scale":{"domain":[-4,4],"nice":false,"zero":false},"axis":null},"y2":{"datum":4.943}}},
{"data":{"name":"logoWave"},"mark":{"type":"area","color":{"x1":0,"y1":0,"x2":0,"y2":1,"gradient":"linear","stops":[{"offset":0,"color":"#6fc3d4"},{"offset":0.5,"color":"#6f939e"},{"offset":1,"color":"#3c5564"}]}},"encoding":{"x":{"field":"h","type":"quantitative","title":null,"scale":{"domain":[0,48],"nice":false,"zero":false},"axis":null},"y":{"field":"v","type":"quantitative","title":null,"scale":{"domain":[-4,4],"nice":false,"zero":false},"axis":null},"y2":{"datum":4.08}}},
{"data":{"values":[{"item":"logo mast"}]},"mark":{"type":"rule","color":"white","strokeWidth":2,"strokeDash":[6,10]},"encoding":{"x":{"datum":2.86,"title":null,"scale":{"domain":[0,48],"nice":false,"zero":false},"axis":null},"y":{"datum":4.53,"title":null,"scale":{"domain":[-4,4],"nice":false,"zero":false},"axis":null},"y2":{"datum":4.2}}},
{"data":{"values":[{"label":"SOCIB"}]},"mark":{"type":"text","font":"Noto Sans","fontSize":40,"color":"#6cc5d8","baseline":"alphabetic","align":"center"},"encoding":{"x":{"datum":2.17,"title":null,"scale":{"domain":[0,48],"nice":false,"zero":false},"axis":null},"y":{"datum":4.604,"title":null,"scale":{"domain":[-4,4],"nice":false,"zero":false},"axis":null},"text":{"field":"label"}}}
],
"resolve":{"axis":{"x":"independent","y":"independent"}}}
